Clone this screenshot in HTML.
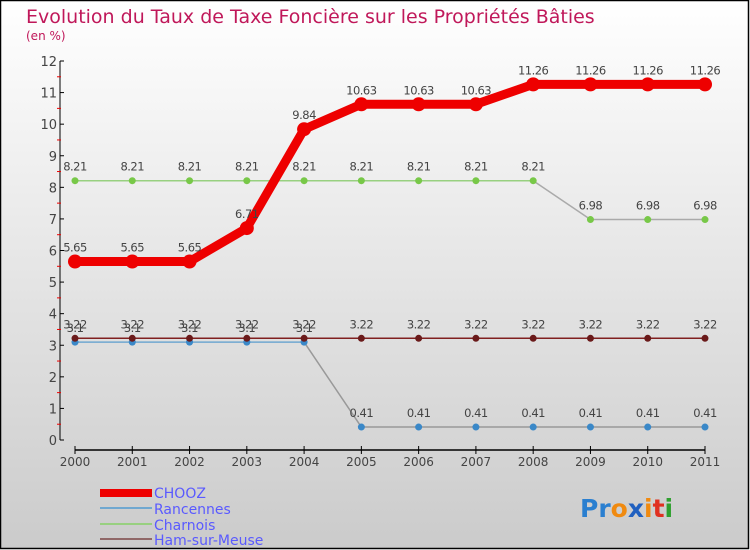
<!DOCTYPE html>
<html><head><meta charset="utf-8"><style>
body{margin:0;width:750px;height:550px;overflow:hidden;font-family:"DejaVu Sans","Liberation Sans",sans-serif;}
svg{display:block}
</style></head><body>
<svg id="c" width="750" height="550">
<defs><linearGradient id="bg" x1="0" y1="0" x2="0" y2="1"><stop offset="0" stop-color="#ffffff"/><stop offset="1" stop-color="#cbcbcb"/></linearGradient></defs>
<rect x="0.5" y="0.5" width="748" height="548" fill="url(#bg)" stroke="#000" stroke-width="1.5"/>
<text x="26" y="23" font-size="19" fill="#c0185a">Evolution du Taux de Taxe Foncière sur les Propriétés Bâties</text>
<text x="26" y="40" font-size="12" fill="#c0185a">(en %)</text>
<g id="axes"></g><g id="series"></g>
<g>
<rect x="100" y="489" width="52" height="8" fill="#e00"/>
<text x="154" y="498" font-size="14" fill="#5a5aff">CHOOZ</text>
<rect x="100" y="507" width="52" height="2" fill="#70a8d0"/>
<text x="154" y="514" font-size="14" fill="#5a5aff">Rancennes</text>
<rect x="100" y="523" width="52" height="2" fill="#98d080"/>
<text x="154" y="530" font-size="14" fill="#5a5aff">Charnois</text>
<rect x="100" y="538" width="52" height="2" fill="#906868"/>
<text x="154" y="545" font-size="14" fill="#5a5aff">Ham-sur-Meuse</text>
</g>
<text x="580" y="517" font-size="25" font-weight="bold"><tspan fill="#2a7fd0">Pr</tspan><tspan fill="#f08a10">o</tspan><tspan fill="#2060c0">x</tspan><tspan fill="#f08a10">i</tspan><tspan fill="#e03020">t</tspan><tspan fill="#30a030">i</tspan></text>
</svg>
<script>
const years=["2000","2001","2002","2003","2004","2005","2006","2007","2008","2009","2010","2011"];
const yTicks=[0,1,2,3,4,5,6,7,8,9,10,11,12];
const chooz=[5.65,5.65,5.65,6.71,9.84,10.63,10.63,10.63,11.26,11.26,11.26,11.26];
const rancennes=[3.1,3.1,3.1,3.1,3.1,0.41,0.41,0.41,0.41,0.41,0.41,0.41];
const charnois=[8.21,8.21,8.21,8.21,8.21,8.21,8.21,8.21,8.21,6.98,6.98,6.98];
const ham=[3.22,3.22,3.22,3.22,3.22,3.22,3.22,3.22,3.22,3.22,3.22,3.22];
const NS="http://www.w3.org/2000/svg";
const X=i=>75+i*(630/(years.length-1));
const Y=v=>440-v*(379/12);
function mk(t,a,p){const e=document.createElementNS(NS,t);for(const k in a)e.setAttribute(k,a[k]);p.appendChild(e);return e;}
const ax=document.getElementById('axes');
let e=mk('line',{x1:60,y1:Y(12),x2:60,y2:Y(0),stroke:'#000'},ax);


e=mk('line',{x1:X(0),y1:450,x2:X(11),y2:450,stroke:'#000','stroke-width':1.5},ax);


yTicks.forEach(t=>{
 mk('line',{x1:60,y1:Y(t),x2:64,y2:Y(t),stroke:'#000'},ax);
 if(t<12)mk('line',{x1:57,y1:Y(t+0.5),x2:61,y2:Y(t+0.5),stroke:'#e00'},ax);
 e=mk('text',{x:57,y:Y(t)+5,'font-size':13,fill:'#444','text-anchor':'end'},ax);
 e.textContent=t;
 
 
});
years.forEach((y,i)=>{
 mk('line',{x1:X(i),y1:446,x2:X(i),y2:454,stroke:'#000'},ax);
 e=mk('text',{x:X(i),y:466,'font-size':12,fill:'#444','text-anchor':'middle'},ax);
 e.textContent=y;
 
 
});
const sg=document.getElementById('series');
function series(name,vals,col,lw,r,dotc,late,fmt){
 const g=mk('g',{},sg);
 
 
 for(let i=0;i<vals.length-1;i++){
  const c=(late&&vals[i+1]!==vals[0])?late:col;
  mk('line',{x1:X(i),y1:Y(vals[i]),x2:X(i+1),y2:Y(vals[i+1]),stroke:c,'stroke-width':lw,'stroke-linecap':'round'},g);
 }
 vals.forEach((v,i)=>{
  const d=mk('circle',{cx:X(i),cy:Y(v),r:r,fill:dotc},g);
  
  
  const t=mk('text',{x:X(i),y:Y(v)-10,'font-size':11.5,fill:'#444','text-anchor':'middle','letter-spacing':'-0.5'},g);
  t.textContent=fmt(v);
 });
}
const f=v=>String(v).replace('.','.');
series('rancennes',rancennes,'#70a8d0',1.5,3.5,'#3a88c8','#999',v=>String(v));
series('ham',ham,'#802020',1.5,3.5,'#6a1a1a',null,v=>String(v));
series('charnois',charnois,'#98d080',1.5,3.5,'#78c848','#aaa',v=>String(v));
series('chooz',chooz,'#e00',9,7,'#e00',null,v=>String(v));
</script>
</body></html>
